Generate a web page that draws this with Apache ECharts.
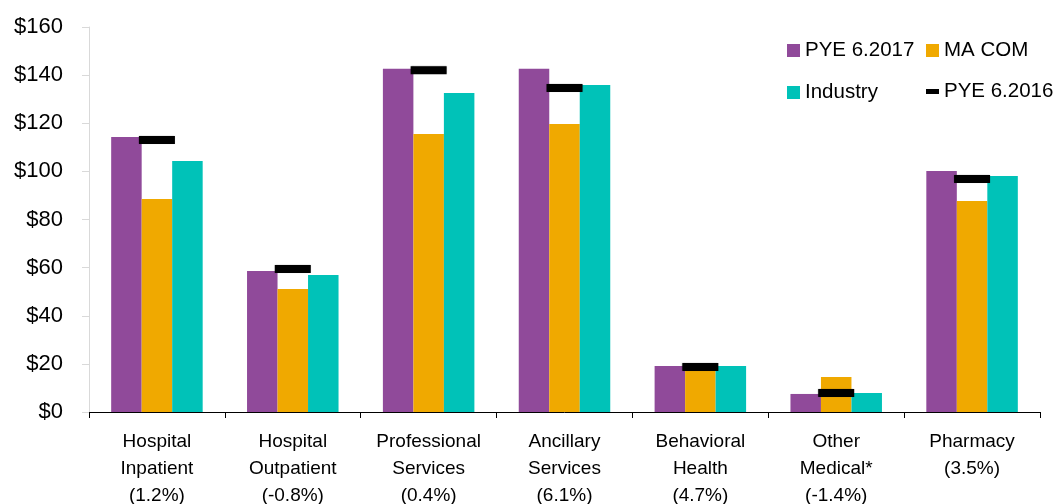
<!DOCTYPE html>
<html><head><meta charset="utf-8">
<script src="https://cdn.jsdelivr.net/npm/echarts@6/dist/echarts.min.js"></script>
<style>html,body{margin:0;padding:0;background:#fff}#c{width:1060px;height:504px}</style>
</head><body><div id="c"></div>
<script>
const categories = ['Hospital\nInpatient\n(1.2%)','Hospital\nOutpatient\n(-0.8%)','Professional\nServices\n(0.4%)','Ancillary\nServices\n(6.1%)','Behavioral\nHealth\n(4.7%)','Other\nMedical*\n(-1.4%)','Pharmacy\n(3.5%)'];
const pye2017 = [114.3, 58.6, 142.6, 142.6, 19.1, 7.5, 100.2];
const maCom = [88.5, 51.1, 115.5, 119.7, 18.3, 14.5, 87.7];
const industry = [104.3, 56.9, 132.6, 135.9, 19.1, 7.9, 98.1];
const pye2016 = [113, 59.4, 142, 134.7, 18.7, 7.9, 96.8];
const yTicks = [0, 20, 40, 60, 80, 100, 120, 140, 160];

const FONT = 'Liberation Sans, Arial, sans-serif';
const chart = echarts.init(document.getElementById('c'));
const txt = {fontFamily: FONT, fontSize: 20.5, color: '#000', lineHeight: 20};
chart.setOption({
  animation: false,
  grid: {left: 89, right: 20, top: 27, bottom: 92, containLabel: false, outerBoundsMode: 'none'},
  legend: [
    {orient: 'vertical', left: 787, top: 40, padding: 0, itemWidth: 13, itemHeight: 13, itemGap: 21, icon: 'rect', textStyle: txt,
      data: ['PYE 6.2017', 'Industry']},
    {orient: 'vertical', left: 926, top: 40, padding: 0, itemWidth: 13, itemHeight: 13, itemGap: 21, icon: 'rect', textStyle: txt,
      data: ['MA COM']},
    {orient: 'vertical', left: 926, top: 81, padding: 0, itemWidth: 13, itemHeight: 5, itemGap: 21, icon: 'rect', textStyle: txt,
      itemStyle: {color: '#000', borderWidth: 0, opacity: 1},
      data: ['PYE 6.2016']}
  ],
  xAxis: {
    type: 'category', data: categories,
    axisLine: {lineStyle: {color: '#000', width: 1}},
    axisTick: {show: true, length: 6, interval: 0, lineStyle: {color: '#000'}},
    axisLabel: {interval: 0, fontFamily: FONT, fontSize: 19, color: '#000', lineHeight: 27, margin: 16}
  },
  yAxis: {
    type: 'value', min: 0, max: 160, interval: 20,
    axisLine: {show: true, lineStyle: {color: '#d9d9d9'}},
    axisTick: {show: true, length: 7, lineStyle: {color: '#d9d9d9'}},
    splitLine: {show: false},
    axisLabel: {fontFamily: FONT, fontSize: 22, color: '#000', margin: 26, formatter: v => yTicks.includes(v) ? '$' + v : ''}
  },
  series: [
    {name: 'PYE 6.2017', type: 'bar', data: pye2017, barWidth: 30.5, barGap: '0%', itemStyle: {color: '#904A9A'}},
    {name: 'MA COM', type: 'bar', data: maCom, barWidth: 30.5, barGap: '0%', itemStyle: {color: '#F0A900'}},
    {name: 'Industry', type: 'bar', data: industry, barWidth: 30.5, barGap: '0%', itemStyle: {color: '#00C2B8'}},
    {name: 'PYE 6.2016', type: 'scatter', data: pye2016, symbol: 'rect', symbolSize: [36, 8], z: 5,
      itemStyle: {color: '#000', borderWidth: 0, opacity: 1, shadowBlur: 1.5, shadowColor: 'rgba(0,0,0,0.5)'}}
  ]
});
</script></body></html>
